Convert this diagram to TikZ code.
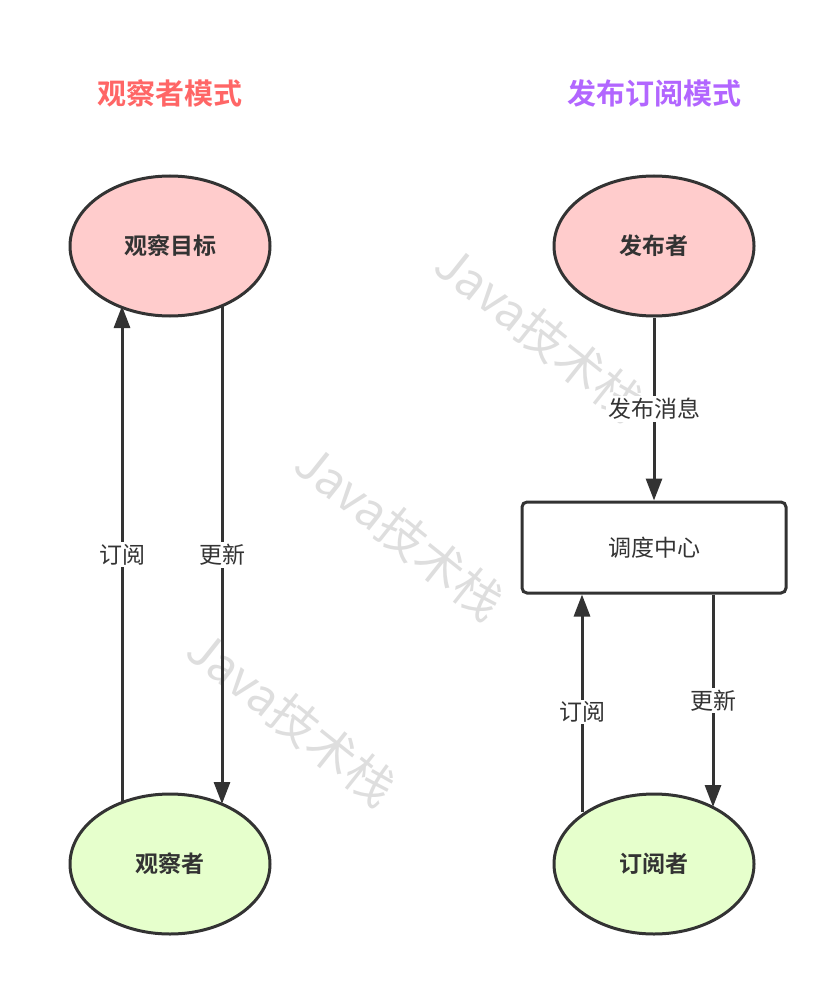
\documentclass[tikz,border=0pt]{standalone}
\usepackage{fontspec}
\setmainfont{Noto Sans CJK SC}[BoldFont={* Bold}]
\usetikzlibrary{arrows.meta,shapes.geometric}
\definecolor{ink}{HTML}{333333}
\definecolor{tred}{HTML}{FF6666}
\definecolor{tpur}{HTML}{B266FF}
\definecolor{pinkf}{HTML}{FFCCCC}
\definecolor{greenf}{HTML}{E6FFCC}
\begin{document}
\begin{tikzpicture}[x=1pt,y=-1pt,
  ell/.style={ellipse,draw=ink,line width=3pt,minimum width=200pt,minimum height=140pt,inner sep=0pt,font=\fontsize{23}{26}\selectfont\bfseries,text=ink},
  arr/.style={draw=ink,line width=3pt,-{Triangle[length=22pt,width=16pt]}},
  lab/.style={fill=white,inner sep=2pt,text=ink,font=\fontsize{23}{26}\selectfont},
  ttl/.style={font=\fontsize{29}{32}\selectfont\bfseries},
  wm/.style={text=black!13,rotate=-38.5,font=\fontsize{48}{52}\selectfont}]
\useasboundingbox (0,0) rectangle (836,984);
\node[wm] (w1) at (540,333) {Java技术栈};
\node[wm] (w2) at (400,532) {Java技术栈};
\node[wm] (w3) at (292,718) {Java技术栈};
\node[ttl,text=tred] (t1) at (170,93) {观察者模式};
\node[ttl,text=tpur] (t2) at (654,93) {发布订阅模式};
\node[ell,fill=pinkf] (tgt) at (170,246) {观察目标};
\node[ell,fill=greenf] (obs) at (170,864) {观察者};
\node[ell,fill=pinkf] (pub) at (654,246) {发布者};
\node[ell,fill=greenf] (sub) at (654,864) {订阅者};
\node[draw=ink,line width=3pt,rounded corners=5pt,minimum width=264pt,minimum height=91pt,text=ink,font=\fontsize{23}{26}\selectfont] (hub) at (654,547.5) {调度中心};
\draw[arr] ([xshift=-48pt,yshift=61pt]obs.center) -- node[lab]{订阅} ([xshift=-48pt,yshift=-60pt]tgt.center);
\draw[arr] ([xshift=52pt,yshift=-60pt]tgt.center) -- node[lab]{更新} ([xshift=52pt,yshift=60pt]obs.center);
\draw[arr] (pub.south) -- node[lab]{发布消息} (hub.north);
\draw[arr] ([xshift=-72pt,yshift=52pt]sub.center) -- node[lab,pos=0.46]{订阅} ([xshift=-72pt]hub.south);
\draw[arr] ([xshift=59pt]hub.south) -- node[lab,pos=0.5]{更新} ([xshift=59pt,yshift=57pt]sub.center);
\end{tikzpicture}
\end{document}
